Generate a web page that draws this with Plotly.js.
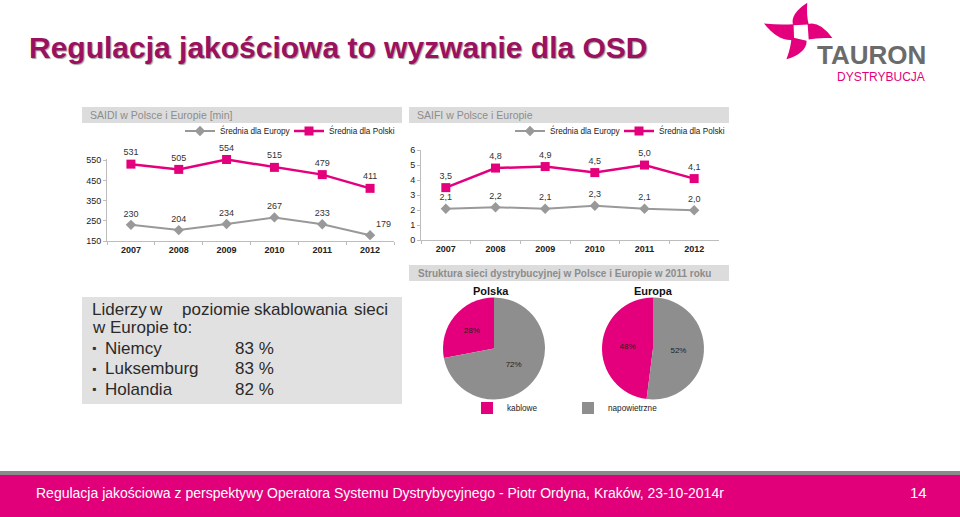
<!DOCTYPE html>
<html><head><meta charset="utf-8">
<script src="https://cdn.plot.ly/plotly-3.0.1.min.js"></script>
<style>html,body{margin:0;padding:0;background:#fff}#chart{width:960px;height:517px}</style>
</head><body><div id="chart"></div>
<script>
// ---- data ----
const years = ['2007','2008','2009','2010','2011','2012'];
const saidiEurope = [230,204,234,267,233,179];
const saidiPolska = [531,505,554,515,479,411];
const saifiEurope = [2.1,2.2,2.1,2.3,2.1,2.0];
const saifiPolska = [3.5,4.8,4.9,4.5,5.0,4.1];
const seriesNames = ['Średnia dla Europy','Średnia dla Polski'];
const pieLabels = ['kablowe','napowietrzne'];
const polskaShares = [28,72];
const europaShares = [48,52];
const pieTitles = ['Polska','Europa'];
const leaders = ['Niemcy','Luksemburg','Holandia'];
const leaderShares = [83,83,82];
const saidiTicks = [150,250,350,450,550];

// ---- helpers / styles ----
const W=960,H=517;
const X=p=>p/W, Y=p=>1-p/H;
const PINK='#e4007c', GREY='#999999', PIEGREY='#8e8e8e';
const FONT='"Liberation Sans", Arial, sans-serif';

function lineTrace(y, name, isPolska, xa, ya, leg, fmt, pos){
  return {type:'scatter', mode:'lines+markers+text', x:years, y:y, name:name,
    xaxis:xa, yaxis:ya, legend:leg, cliponaxis:false,
    line:{color:isPolska?PINK:GREY, width:isPolska?2.5:2},
    marker:{symbol:isPolska?'square':'diamond', size:isPolska?9:8, color:isPolska?PINK:GREY},
    texttemplate:fmt, textposition:pos, textfont:{size:9,color:'#333',family:FONT},
    hoverinfo:'x+y'};
}
const saidiEuPos = years.map((_,i)=> i===years.length-1 ? 'top right':'top center');
// first slice (kablowe) ends at 12 o'clock, drawn on the left side
const pieRot = v => -360*v[0]/v.reduce((a,b)=>a+b,0);
const pieCommon = {type:'pie', labels:pieLabels, legend:'legend5', sort:false, direction:'clockwise',
   marker:{colors:[PINK,PIEGREY], line:{width:0}}, textinfo:'percent', textposition:'inside',
   insidetextorientation:'horizontal', textfont:{size:8,color:'#222',family:FONT}};
const data = [
  lineTrace(saidiEurope, seriesNames[0], false, 'x','y','legend','%{y}', saidiEuPos),
  lineTrace(saidiPolska, seriesNames[1], true, 'x','y','legend2','%{y}', 'top center'),
  lineTrace(saifiEurope, seriesNames[0], false, 'x2','y2','legend3','%{y:.1f}', 'top center'),
  lineTrace(saifiPolska, seriesNames[1], true, 'x2','y2','legend4','%{y:.1f}', 'top center'),
  Object.assign({}, pieCommon, {values:polskaShares, rotation:pieRot(polskaShares), domain:{x:[X(443),X(545)], y:[Y(399.5),Y(297.5)]}}),
  Object.assign({}, pieCommon, {values:europaShares, rotation:pieRot(europaShares), showlegend:false, domain:{x:[X(602),X(704)], y:[Y(399.5),Y(297.5)]}})
];

const axX = {type:'category', range:[-0.5,5.5], showline:true, linecolor:'#bdbdbd', linewidth:1,
  ticks:'outside', tickson:'boundaries', ticklen:3, tickcolor:'#bdbdbd',
  tickfont:{size:9,color:'#222',family:FONT,weight:'bold'}, showgrid:false, zeroline:false, fixedrange:true};
const axY = {showline:true, linecolor:'#bdbdbd', linewidth:1, ticks:'outside', ticklen:3, tickcolor:'#bdbdbd',
  tickfont:{size:9,color:'#222',family:FONT}, showgrid:false, zeroline:false, fixedrange:true};

const legBase = {orientation:'h', yanchor:'middle', xanchor:'left', bgcolor:'rgba(0,0,0,0)',
  font:{size:8.2,color:'#222',family:FONT}, itemclick:false, itemdoubleclick:false};

// logo petals
function petal(cx,cy,angDeg,len){
  const a=angDeg*Math.PI/180, c=Math.cos(a), s=Math.sin(a);
  const P=(u,v)=>[cx+u*c - v*s, cy+u*s + v*c];
  const pts=[P(5,-9),P(len*0.5,-15),P(len,0),P(len*0.55,2),P(9,6)];
  const f=p=>X(p[0]).toFixed(5)+','+Y(p[1]).toFixed(5);
  return 'M'+f(pts[0])+' Q'+f(pts[1])+' '+f(pts[2])+' Q'+f(pts[3])+' '+f(pts[4])+' Z';
}
const petalShapes=[[-78,30],[11,32],[118,31],[193,38]].map(([a,l])=>({type:'path', xref:'paper', yref:'paper',
  path:petal(801,32,a,l), fillcolor:PINK, line:{width:0}}));

const rect=(x0,y0,x1,y1,col)=>({type:'rect',xref:'paper',yref:'paper',x0:X(x0),x1:X(x1),y0:Y(y1),y1:Y(y0),fillcolor:col,line:{width:0},layer:'below'});

const shapes=[
  rect(82,107,402,123,'#dcdcdc'),
  rect(409,107,729,123,'#dcdcdc'),
  rect(409,265,729,281,'#dcdcdc'),
  rect(82,297,402,404,'#e1e1e1'),
  rect(0,471,960,475,'#8a8a8a'),
  rect(0,475,960,517,'#e2007a'),
  ...petalShapes
];

const ann=(x,y,text,opt={})=>Object.assign({xref:'paper',yref:'paper',x:X(x),y:Y(y),text:text,showarrow:false,
  xanchor:'left',yanchor:'middle',font:{family:FONT,size:10,color:'#333'}},opt);
const boxFont={family:FONT,size:17,color:'#2a2a2a'};
const line1=[['Liderzy',90],['w',147],['poziomie',180],['skablowania',252],['sieci',352]];

const annotations=[
  ann(27,47,'Regulacja jakościowa to wyzwanie dla OSD',{font:{family:FONT,size:30,color:'#9b1160',weight:'bold',shadow:'1px 1px 1px #a0a0a0'}}),
  ann(871,55,'TAURON',{xanchor:'center',font:{family:FONT,size:26,color:'#6b6b6b',weight:'bold'}}),
  ann(881,76.5,'DYSTRYBUCJA',{xanchor:'center',font:{family:FONT,size:12,color:PINK}}),
  ann(88,115,'SAIDI w Polsce i Europie [min]',{font:{family:FONT,size:10.5,color:'#8c8c8c'}}),
  ann(415,115,'SAIFI w Polsce i Europie',{font:{family:FONT,size:10.5,color:'#8c8c8c'}}),
  ann(416,273,'Struktura sieci dystrybucyjnej w Polsce i Europie w 2011 roku',{font:{family:FONT,size:10,color:'#8c8c8c',weight:'bold'}}),
  ann(491,291,pieTitles[0],{xanchor:'center',font:{family:FONT,size:11,color:'#111',weight:'bold'}}),
  ann(653,291,pieTitles[1],{xanchor:'center',font:{family:FONT,size:11,color:'#111',weight:'bold'}}),
  ...line1.map(([w,x])=>ann(x,309.5,w,{font:boxFont})),
  ann(90,327,'w Europie to:',{font:boxFont}),
  ...leaders.flatMap((n,i)=>[
    ann(90,348+i*20.5,'▪',{font:{family:FONT,size:12,color:'#333'}}),
    ann(103,348+i*20.5,n,{font:boxFont}),
    ann(233,348+i*20.5,leaderShares[i]+' %',{font:boxFont})
  ]),
  ann(34,493,'Regulacja jakościowa z perspektywy Operatora Systemu Dystrybycyjnego - Piotr Ordyna, Kraków, 23-10-2014r',{font:{family:FONT,size:14,color:'#fff'}}),
  ann(918,492,'14',{xanchor:'center',font:{family:FONT,size:15,color:'#fff'}})
];

const layout={width:W,height:H,margin:{l:0,r:0,t:0,b:0},paper_bgcolor:'#fff',plot_bgcolor:'rgba(0,0,0,0)',
  separators:', ', showlegend:true, font:{family:FONT},
  xaxis:Object.assign({},axX,{domain:[X(107),X(394)],anchor:'y'}),
  yaxis:Object.assign({},axY,{domain:[Y(241),Y(159.1)],range:[150,556],tickvals:saidiTicks,anchor:'x'}),
  xaxis2:Object.assign({},axX,{domain:[X(421),X(719)],anchor:'y2'}),
  yaxis2:Object.assign({},axY,{domain:[Y(240.3),Y(150)],range:[0,6],dtick:1,anchor:'x2'}),
  legend:Object.assign({},legBase,{x:X(180),y:Y(131)}),
  legend2:Object.assign({},legBase,{x:X(289),y:Y(131)}),
  legend3:Object.assign({},legBase,{x:X(510),y:Y(131)}),
  legend4:Object.assign({},legBase,{x:X(619),y:Y(131)}),
  legend5:Object.assign({},legBase,{x:X(467),y:Y(408),entrywidth:56}),
  shapes:shapes, annotations:annotations};

Plotly.newPlot('chart',data,layout,{displayModeBar:false,staticPlot:true});
</script></body></html>
